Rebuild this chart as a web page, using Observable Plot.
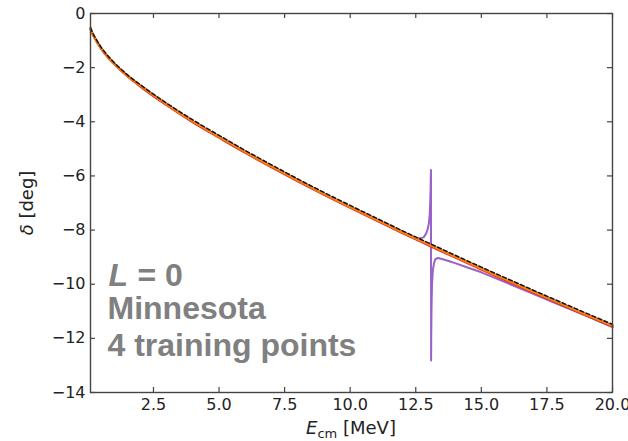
<!DOCTYPE html>
<html>
<head>
<meta charset="utf-8">
<script src="https://cdn.jsdelivr.net/npm/d3@7"></script>
<script src="https://cdn.jsdelivr.net/npm/@observablehq/plot@0.6"></script>
<style>
  html, body { margin: 0; padding: 0; background: #fff; }
  #chart { width: 628px; height: 441px; overflow: hidden; }
</style>
</head>
<body>
<div id="chart"></div>
<script>
// Centre-of-mass energies (MeV) shared by the smooth curves
const energy = [0.1, 0.15, 0.25, 0.5, 0.75, 1, 1.5, 2, 3, 4, 5, 6, 7, 8, 9, 10, 11, 12, 13, 14, 15, 16, 17, 18, 19, 20];

// Phase shifts (deg): exact solution, emulator, and high-fidelity reference
const deltaExact = [-0.58, -0.71, -0.90, -1.30, -1.61, -1.87, -2.32, -2.70, -3.39, -4.02, -4.59, -5.15, -5.68, -6.20, -6.70, -7.18, -7.65, -8.12, -8.57, -9.02, -9.46, -9.89, -10.32, -10.74, -11.16, -11.57];
const deltaEmulator = [-0.55, -0.68, -0.87, -1.27, -1.58, -1.84, -2.29, -2.66, -3.35, -3.98, -4.55, -5.11, -5.64, -6.16, -6.66, -7.14, -7.61, -8.08, -8.53, -8.98, -9.42, -9.85, -10.28, -10.70, -11.12, -11.53];
const deltaReference = [-0.52, -0.65, -0.84, -1.24, -1.55, -1.81, -2.26, -2.63, -3.31, -3.93, -4.50, -5.06, -5.59, -6.11, -6.61, -7.09, -7.56, -8.03, -8.48, -8.93, -9.37, -9.80, -10.23, -10.65, -11.07, -11.48];

// Variant with a spurious pole near 13.08 MeV
const energyPole = [0.1, 0.15, 0.25, 0.5, 0.75, 1, 1.5, 2, 3, 4, 5, 6, 7, 8, 9, 10, 11, 12, 12.4, 12.6, 12.8, 12.9, 12.95, 13.0, 13.03, 13.05, 13.065, 13.075, 13.08, 13.085, 13.09, 13.1, 13.12, 13.15, 13.2, 13.25, 13.35, 13.5, 13.75, 14, 14.5, 15, 16, 17, 18, 19, 20];
const deltaPole = [-0.56, -0.69, -0.88, -1.28, -1.59, -1.85, -2.30, -2.67, -3.36, -3.99, -4.56, -5.12, -5.65, -6.17, -6.67, -7.15, -7.61, -8.07, -8.24, -8.31, -8.27, -8.12, -7.98, -7.75, -7.45, -7.00, -6.50, -6.00, -5.78, -12.82, -11.90, -10.90, -10.00, -9.50, -9.20, -9.07, -9.03, -9.07, -9.14, -9.22, -9.39, -9.56, -9.96, -10.36, -10.77, -11.17, -11.58];

// Axis ticks
const xTicks = [2.5, 5, 7.5, 10, 12.5, 15, 17.5, 20];
const yTicks = [0, -2, -4, -6, -8, -10, -12, -14];

const W = 628, H = 441;
const mL = 90, mR = 16, mT = 13, mB = 49;
const fw = W - mL - mR, fh = H - mT - mB;

const rows = (xs, ys) => xs.map((x, i) => ({x, y: ys[i]}));

// Gray bold annotation text anchored to the frame's top-left corner
const note = (label, dx, dy, extra = {}) => Plot.text([label], {
  frameAnchor: "top-left", dx, dy, text: d => d, textAnchor: "start", lineAnchor: "top",
  fontFamily: "Liberation Sans", fontSize: 32, fontWeight: "bold", fill: "#808080", ...extra
});

const chart = Plot.plot({
  width: W,
  height: H,
  marginLeft: mL,
  marginRight: mR,
  marginTop: mT,
  marginBottom: mB,
  style: {fontFamily: "DejaVu Sans", fontSize: "16px", color: "#222", background: "#fff"},
  x: {domain: [0.1, 20], axis: null},
  y: {domain: [-14, 0], axis: null},
  marks: [
    Plot.line(rows(energyPole, deltaPole), {x: "x", y: "y", stroke: "#9a62c9", strokeWidth: 2}),
    Plot.line(rows(energy, deltaExact), {x: "x", y: "y", stroke: "#d62728", strokeWidth: 2, curve: "monotone-x"}),
    Plot.line(rows(energy, deltaEmulator), {x: "x", y: "y", stroke: "#ff7f0e", strokeWidth: 2.6, curve: "monotone-x"}),
    Plot.line(rows(energy, deltaReference), {x: "x", y: "y", stroke: "#111", strokeWidth: 1.5, strokeDasharray: "4,2.5", curve: "monotone-x"}),
    // inward ticks on all four sides
    Plot.tickX(xTicks, {x: d => d, insetTop: fh - 5, stroke: "#444", strokeWidth: 1.2}),
    Plot.tickX(xTicks, {x: d => d, insetBottom: fh - 5, stroke: "#444", strokeWidth: 1.2}),
    Plot.tickY(yTicks, {y: d => d, insetRight: fw - 5, stroke: "#444", strokeWidth: 1.2}),
    Plot.tickY(yTicks, {y: d => d, insetLeft: fw - 5, stroke: "#444", strokeWidth: 1.2}),
    Plot.axisX(xTicks, {tickSize: 0, tickPadding: 6, tickFormat: d3.format(".1f"), label: null, fill: "#222", fontSize: 16}),
    Plot.axisY(yTicks, {tickSize: 0, tickPadding: 5, label: null, fill: "#222", fontSize: 16}),
    Plot.frame({stroke: "#444", strokeWidth: 1.4}),
    // annotation block
    note("L", 18, 250, {fontStyle: "italic"}),
    note("= 0", 47, 250),
    note("Minnesota", 17, 283),
    note("4 training points", 17, 320)
  ]
});

document.getElementById("chart").appendChild(chart);

// Axis titles with math-style glyphs
const svg = d3.select(chart);
const xl = svg.append("text")
  .attr("x", 351).attr("y", 434)
  .attr("text-anchor", "middle")
  .style("font-family", "DejaVu Sans").style("font-size", "18px").attr("fill", "#222");
xl.append("tspan").text("E").style("font-style", "italic");
xl.append("tspan").text("cm").attr("dy", 4).style("font-size", "13px");
xl.append("tspan").text(" [MeV]").attr("dy", -4);

const yl = svg.append("text")
  .attr("transform", "translate(33,203) rotate(-90)")
  .attr("text-anchor", "middle")
  .style("font-family", "DejaVu Sans").style("font-size", "18px").attr("fill", "#222");
yl.append("tspan").text("δ").style("font-style", "italic");
yl.append("tspan").text(" [deg]");
</script>
</body>
</html>
